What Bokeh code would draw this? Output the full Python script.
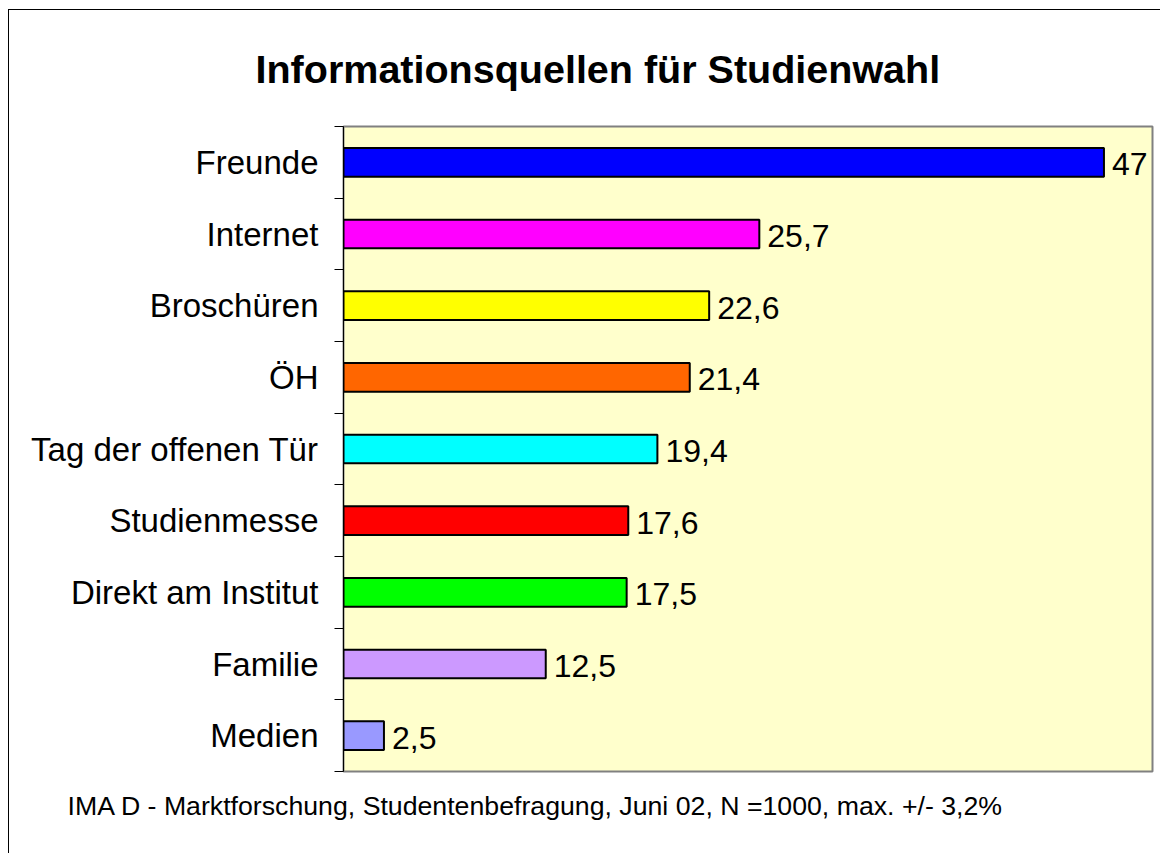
from bokeh.plotting import figure
from bokeh.models import ColumnDataSource, FixedTicker, Title
from bokeh.core.properties import value
from bokeh.embed import file_html
from bokeh.resources import INLINE

categories = ["Freunde", "Internet", "Broschüren", "ÖH", "Tag der offenen Tür",
              "Studienmesse", "Direkt am Institut", "Familie", "Medien"]
values = [47, 25.7, 22.6, 21.4, 19.4, 17.6, 17.5, 12.5, 2.5]
value_labels = ["47", "25,7", "22,6", "21,4", "19,4", "17,6", "17,5", "12,5", "2,5"]
colors = ["#0000FF", "#FF00FF", "#FFFF00", "#FF6600", "#00FFFF",
          "#FF0000", "#00FF00", "#CC99FF", "#9999FF"]

title_text = "Informationsquellen für Studienwahl"
footer_text = "IMA D - Marktforschung, Studentenbefragung, Juni 02, N =1000, max. +/- 3,2%"

n = len(categories)
ypos = [n - i - 0.5 for i in range(n)]

src = ColumnDataSource(dict(y=ypos, v=values, lab=value_labels, color=colors))

FONT = "Liberation Sans"

p = figure(width=1152, height=844, x_range=(0, 50), y_range=(0, n),
           output_backend="svg", toolbar_location=None, x_axis_location=None,
           min_border_left=334, min_border_right=9, min_border_top=116,
           min_border_bottom=83)
p.styles = {"margin-left": "8px", "margin-top": "9px",
            "border-left": "1px solid black", "border-top": "1px solid black"}

p.title.text = title_text
p.title.align = "left"
p.title.vertical_align = "top"
p.title.offset = -88
p.title.standoff = 68
p.title.text_font = FONT
p.title.text_font_size = "39.5px"
p.title.text_font_style = "bold"
p.title.text_color = "black"

footer = Title(text=footer_text, align="left", offset=-276, standoff=35,
               text_font=FONT, text_font_size="26.7px", text_font_style="normal",
               text_color="black")
p.add_layout(footer, "below")

p.background_fill_color = "#FFFFCC"
p.border_fill_color = "white"
p.outline_line_color = "#808080"
p.outline_line_width = 2
p.xgrid.visible = False
p.ygrid.visible = False

yax = p.yaxis[0]
yax.ticker = FixedTicker(ticks=ypos, minor_ticks=list(range(n + 1)))
yax.major_label_overrides = {y: c for y, c in zip(ypos, categories)}
yax.major_tick_out = 0
yax.major_tick_in = 0
yax.minor_tick_out = 9
yax.minor_tick_in = 0
yax.minor_tick_line_color = "black"
yax.minor_tick_line_width = 1
yax.axis_line_color = "black"
yax.axis_line_width = 1
yax.major_label_standoff = 16
yax.major_label_text_font = FONT
yax.major_label_text_font_size = "33px"
yax.major_label_text_color = "black"

p.hbar(y="y", left=0, right="v", height=0.4, fill_color="color",
       line_color="black", line_width=2, source=src)

p.text(x="v", y="y", text="lab", x_offset=8, y_offset=2, text_baseline="middle",
       text_align="left", text_font=value(FONT), text_font_size="32px",
       text_color="black", source=src)

open("out.html", "w").write(file_html(p, INLINE))
